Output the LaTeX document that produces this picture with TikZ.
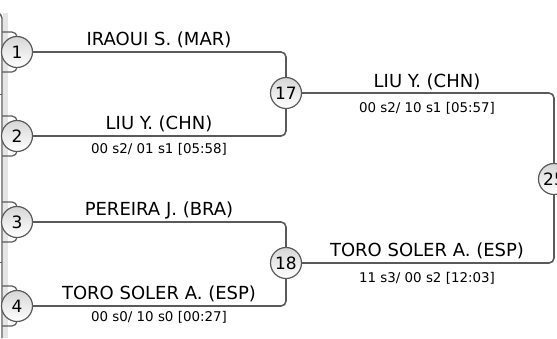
\documentclass[tikz,border=0pt]{standalone}
\usepackage{fontspec}
\setmainfont{DejaVu Sans}
\usetikzlibrary{positioning}
\definecolor{linegray}{HTML}{5A5A5A}
\tikzset{
  seed/.style={circle, draw=linegray, line width=1.2pt, top color=black!16,
    bottom color=white, minimum size=31pt, inner sep=0pt,
    font=\fontsize{17}{18}\selectfont},
  player/.style={anchor=base, inner sep=0pt, font=\fontsize{18}{20}\selectfont},
  score/.style={anchor=base, inner sep=0pt, font=\fontsize{13.4}{15}\selectfont},
  wire/.style={draw=linegray, line width=1.6pt, rounded corners=5pt},
}

\begin{document}
\begin{tikzpicture}[x=1pt,y=-1pt]
  \useasboundingbox (0,0) rectangle (557,338);
  \clip (0,0) rectangle (557,338);

  % edge of the previous round
  \fill[black!10] (3,13) rectangle (8,338);
  \draw[wire,line width=1.4pt] (0,13) -| (2,338);
  \draw[wire,line width=1pt] (0,94) -- (2,94) (0,262) -- (2,262);
  \foreach \y in {52,136,222,306}
    \draw[wire,line width=1.2pt] (2,\y-20) -| (17,\y) |- (2,\y+20);

  % seeds
  \node[seed] (c1) at (17,52) {1};
  \node[seed] (c2) at (17,136) {2};
  \node[seed] (c3) at (17,222) {3};
  \node[seed] (c4) at (17,306) {4};
  \node[seed] (c17) at (286,93) {17};
  \node[seed] (c18) at (286,263) {18};
  \node[seed] (c25) at (554,179) {25};

  \draw[wire] (c1) -| (c17);
  \draw[wire] (c2) -| (c17);
  \draw[wire] (c3) -| (c18);
  \draw[wire] (c4) -| (c18);
  \draw[wire] (c17) -| (c25);
  \draw[wire] (c18) -| (c25);

  % names and results
  \node[player] (n1) at (159,45) {IRAOUI S. (MAR)};
  \node[player] (n2) at (159,129) {LIU Y. (CHN)};
  \node[score] (s2) at (159,153) {00 s2/ 01 s1 [05:58]};
  \node[player] (n3) at (159,215) {PEREIRA J. (BRA)};
  \node[player] (n4) at (159,299) {TORO SOLER A. (ESP)};
  \node[score] (s4) at (159,321) {00 s0/ 10 s0 [00:27]};
  \node[player] (n17) at (427,87) {LIU Y. (CHN)};
  \node[score] (s17) at (427,112) {00 s2/ 10 s1 [05:57]};
  \node[player] (n18) at (427,256) {TORO SOLER A. (ESP)};
  \node[score] (s18) at (427,282) {11 s3/ 00 s2 [12:03]};
\end{tikzpicture}
\end{document}
